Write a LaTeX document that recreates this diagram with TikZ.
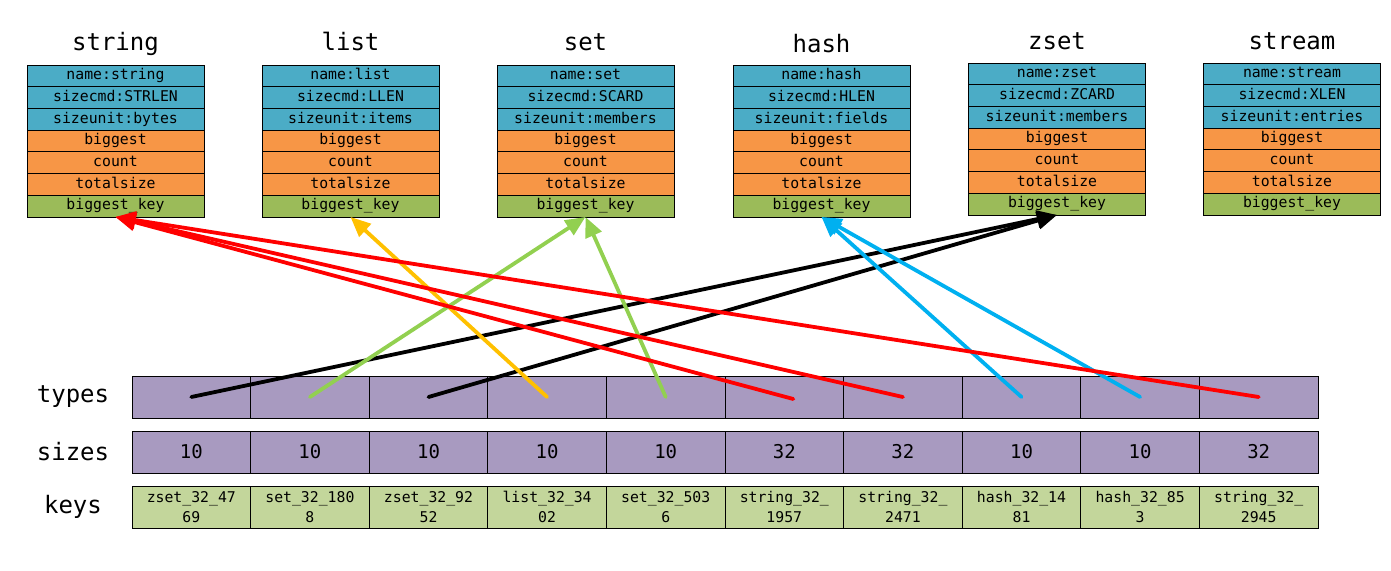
\documentclass[tikz,border=0pt]{standalone}
\usepackage{fontspec}
\setmainfont{DejaVu Sans Mono}
\usetikzlibrary{arrows.meta,positioning}
\definecolor{metablue}{HTML}{4BACC6}
\definecolor{statorange}{HTML}{F79646}
\definecolor{bigkeygreen}{HTML}{9BBB59}
\definecolor{typepurple}{HTML}{A89AC0}
\definecolor{keygreen}{HTML}{C3D69B}
\definecolor{setgreen}{HTML}{92D050}
\definecolor{listyellow}{HTML}{FFC000}
\definecolor{hashblue}{HTML}{00B0F0}

\begin{document}
\begin{tikzpicture}[
x=1pt, y=-1pt,
field/.style={
    draw,
    rectangle,
    line width=0.8pt,
    minimum width=177pt,
    minimum height=21.7pt,
    inner sep=0pt,
    outer sep=0pt,
    text height=10.5pt,
    text depth=3pt,
    font=\fontsize{14.8}{16}\selectfont
},
meta/.style={field, fill=metablue},
stat/.style={field, fill=statorange},
bigkey/.style={field, fill=bigkeygreen},
title/.style={font=\fontsize{24}{28}\selectfont},
rowlabel/.style={font=\fontsize{24}{28}\selectfont},
cell/.style={
    draw,
    rectangle,
    line width=0.8pt,
    minimum width=118.6pt,
    minimum height=42pt,
    inner sep=0pt,
    outer sep=0pt
},
typecell/.style={cell, fill=typepurple},
sizecell/.style={cell, fill=typepurple, font=\fontsize{19}{20}\selectfont},
keycell/.style={cell, fill=keygreen, align=center, font=\fontsize{14.8}{19.5}\selectfont},
link/.style={line width=3.8pt, line cap=round, -{Triangle[length=20pt,width=17pt]}}
]
\useasboundingbox (0,0) rectangle (1391,570);

% string
\node[title] (string) at (115.5,44) {string};
\node[meta] (string-1) at (115.5,75.9) {name:string};
\node[meta, below=0pt of string-1] (string-2) {sizecmd:STRLEN};
\node[meta, below=0pt of string-2] (string-3) {sizeunit:bytes};
\node[stat, below=0pt of string-3] (string-4) {biggest};
\node[stat, below=0pt of string-4] (string-5) {count};
\node[stat, below=0pt of string-5] (string-6) {totalsize};
\node[bigkey, below=0pt of string-6] (string-7) {biggest\_key};

% list
\node[title] (list) at (350.5,41) {list};
\node[meta] (list-1) at (350.5,75.9) {name:list};
\node[meta, below=0pt of list-1] (list-2) {sizecmd:LLEN};
\node[meta, below=0pt of list-2] (list-3) {sizeunit:items};
\node[stat, below=0pt of list-3] (list-4) {biggest};
\node[stat, below=0pt of list-4] (list-5) {count};
\node[stat, below=0pt of list-5] (list-6) {totalsize};
\node[bigkey, below=0pt of list-6] (list-7) {biggest\_key};

% set
\node[title] (set) at (585.5,42) {set};
\node[meta] (set-1) at (585.5,75.9) {name:set};
\node[meta, below=0pt of set-1] (set-2) {sizecmd:SCARD};
\node[meta, below=0pt of set-2] (set-3) {sizeunit:members};
\node[stat, below=0pt of set-3] (set-4) {biggest};
\node[stat, below=0pt of set-4] (set-5) {count};
\node[stat, below=0pt of set-5] (set-6) {totalsize};
\node[bigkey, below=0pt of set-6] (set-7) {biggest\_key};

% hash
\node[title] (hash) at (821.5,44) {hash};
\node[meta] (hash-1) at (821.5,75.9) {name:hash};
\node[meta, below=0pt of hash-1] (hash-2) {sizecmd:HLEN};
\node[meta, below=0pt of hash-2] (hash-3) {sizeunit:fields};
\node[stat, below=0pt of hash-3] (hash-4) {biggest};
\node[stat, below=0pt of hash-4] (hash-5) {count};
\node[stat, below=0pt of hash-5] (hash-6) {totalsize};
\node[bigkey, below=0pt of hash-6] (hash-7) {biggest\_key};

% zset
\node[title] (zset) at (1057,41) {zset};
\node[meta] (zset-1) at (1057,73.9) {name:zset};
\node[meta, below=0pt of zset-1] (zset-2) {sizecmd:ZCARD};
\node[meta, below=0pt of zset-2] (zset-3) {sizeunit:members};
\node[stat, below=0pt of zset-3] (zset-4) {biggest};
\node[stat, below=0pt of zset-4] (zset-5) {count};
\node[stat, below=0pt of zset-5] (zset-6) {totalsize};
\node[bigkey, below=0pt of zset-6] (zset-7) {biggest\_key};

% stream
\node[title] (stream) at (1292,41) {stream};
\node[meta] (stream-1) at (1292,73.9) {name:stream};
\node[meta, below=0pt of stream-1] (stream-2) {sizecmd:XLEN};
\node[meta, below=0pt of stream-2] (stream-3) {sizeunit:entries};
\node[stat, below=0pt of stream-3] (stream-4) {biggest};
\node[stat, below=0pt of stream-4] (stream-5) {count};
\node[stat, below=0pt of stream-5] (stream-6) {totalsize};
\node[bigkey, below=0pt of stream-6] (stream-7) {biggest\_key};

% types row
\node[typecell] (type0) at (191.3,397) {};
\node[typecell, right=0pt of type0] (type1) {};
\node[typecell, right=0pt of type1] (type2) {};
\node[typecell, right=0pt of type2] (type3) {};
\node[typecell, right=0pt of type3] (type4) {};
\node[typecell, right=0pt of type4] (type5) {};
\node[typecell, right=0pt of type5] (type6) {};
\node[typecell, right=0pt of type6] (type7) {};
\node[typecell, right=0pt of type7] (type8) {};
\node[typecell, right=0pt of type8] (type9) {};
\node[rowlabel] (typeslabel) at (73,397) {types};

% sizes row
\node[sizecell] (size0) at (191.3,452) {10};
\node[sizecell, right=0pt of size0] (size1) {10};
\node[sizecell, right=0pt of size1] (size2) {10};
\node[sizecell, right=0pt of size2] (size3) {10};
\node[sizecell, right=0pt of size3] (size4) {10};
\node[sizecell, right=0pt of size4] (size5) {32};
\node[sizecell, right=0pt of size5] (size6) {32};
\node[sizecell, right=0pt of size6] (size7) {10};
\node[sizecell, right=0pt of size7] (size8) {10};
\node[sizecell, right=0pt of size8] (size9) {32};
\node[rowlabel] (sizeslabel) at (73,452) {sizes};

% keys row
\node[keycell] (key0) at (191.3,507) {zset\_32\_47\\69};
\node[keycell, right=0pt of key0] (key1) {set\_32\_180\\8};
\node[keycell, right=0pt of key1] (key2) {zset\_32\_92\\52};
\node[keycell, right=0pt of key2] (key3) {list\_32\_34\\02};
\node[keycell, right=0pt of key3] (key4) {set\_32\_503\\6};
\node[keycell, right=0pt of key4] (key5) {string\_32\_\\1957};
\node[keycell, right=0pt of key5] (key6) {string\_32\_\\2471};
\node[keycell, right=0pt of key6] (key7) {hash\_32\_14\\81};
\node[keycell, right=0pt of key7] (key8) {hash\_32\_85\\3};
\node[keycell, right=0pt of key8] (key9) {string\_32\_\\2945};
\node[rowlabel] (keyslabel) at (73,507) {keys};

% types -> biggest_key
\draw[link, black] (type0.center) -- (zset-7.south);
\draw[link, black] (type2.center) -- (zset-7.south);
\draw[link, listyellow] (type3.center) -- (list-7.south);
\draw[link, setgreen] (type1.center) -- (set-7.south);
\draw[link, setgreen] (type4.center) -- (set-7.south);
\draw[link, hashblue] (type7.center) -- (hash-7.south);
\draw[link, hashblue] (type8.center) -- (hash-7.south);
\draw[link, red] ([xshift=9pt,yshift=-2pt]type5.center) -- (string-7.south);
\draw[link, red] (type6.center) -- (string-7.south);
\draw[link, red] (type9.center) -- (string-7.south);

\end{tikzpicture}
\end{document}
